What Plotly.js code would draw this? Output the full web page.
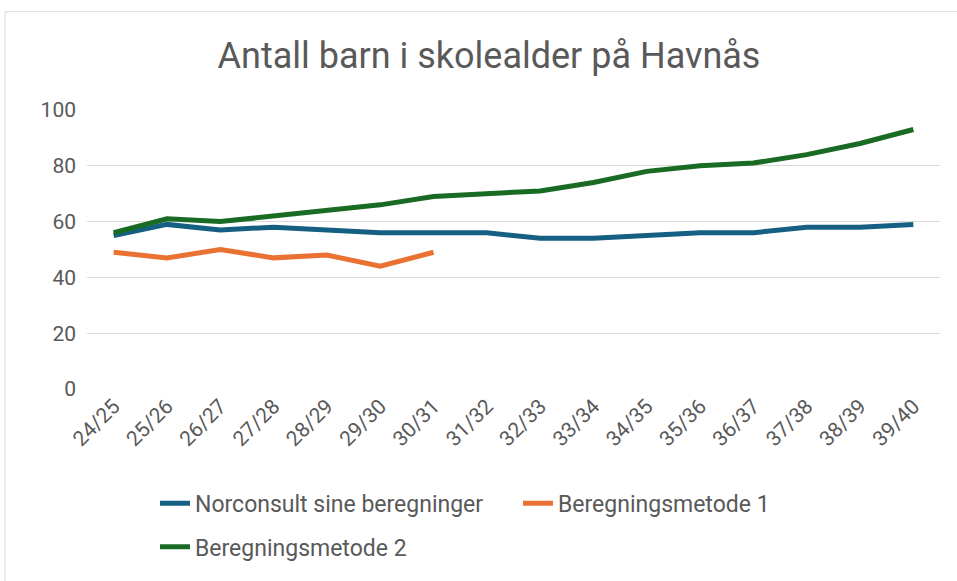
<!DOCTYPE html>
<html>
<head>
<meta charset="utf-8">
<script src="https://cdn.plot.ly/plotly-3.0.1.min.js"></script>
<style>html,body{margin:0;padding:0;background:#fff;}#chart{width:957px;height:581px;}</style>
</head>
<body>
<div id="chart"></div>
<script>
const categories = ["24/25","25/26","26/27","27/28","28/29","29/30","30/31","31/32","32/33","33/34","34/35","35/36","36/37","37/38","38/39","39/40"];
const norconsult = [55,59,57,58,57,56,56,56,54,54,55,56,56,58,58,59];
const metode1 = [49,47,50,47,48,44,49];
const metode2 = [56,61,60,62,64,66,69,70,71,74,78,80,81,84,88,93];
const yTicks = [0,20,40,60,80,100];

const font = 'Roboto, "Liberation Sans", sans-serif';
const mk = (name, y, color, x, leg) => ({
  type: 'scatter', mode: 'lines', name: name,
  x: x, y: y, legend: leg,
  line: {color: color, width: 5, shape: 'linear'},
  hoverinfo: 'skip'
});
const traces = [
  mk('Norconsult sine beregninger', norconsult, '#156082', categories, 'legend'),
  mk('Beregningsmetode 1', metode1, '#E97132', categories.slice(0, metode1.length), 'legend'),
  mk('Beregningsmetode 2', metode2, '#196B24', categories, 'legend2')
];
const L = 87, R = 940, T = 110, B = 391, W = 957, H = 581;
const px = x => (x - L) / (R - L);
const py = y => (B - y) / (B - T);
const legBase = {orientation: 'h', xanchor: 'left', yanchor: 'middle',
  font: {size: 23, color: '#595959'}, itemwidth: 30, valign: 'middle', bgcolor: 'rgba(0,0,0,0)'};
const layout = {
  width: W, height: H,
  margin: {l: L, r: W - R, t: T, b: H - B},
  paper_bgcolor: '#fff', plot_bgcolor: '#fff',
  font: {family: font, color: '#595959', size: 20},
  title: {text: 'Antall barn i skolealder på Havnås', font: {size: 36, color: '#595959', family: font},
    xref: 'container', x: 489 / W, xanchor: 'center', yref: 'container', y: 1 - 55 / H, yanchor: 'middle'},
  xaxis: {type: 'category', categoryorder: 'array', categoryarray: categories,
    range: [-0.5, categories.length - 0.5], showgrid: false, zeroline: false, showline: false,
    ticks: '', tickangle: -45, tickfont: {size: 21, color: '#595959'}, automargin: false},
  yaxis: {range: [0, 100], tickvals: yTicks, ticktext: yTicks.map(String), showgrid: true,
    gridcolor: '#d9d9d9', gridwidth: 1.3, zeroline: false, showline: false, ticks: '',
    tickfont: {size: 21, color: '#595959'}, ticklabelstandoff: 10, automargin: false},
  showlegend: true,
  legend: Object.assign({}, legBase, {x: px(155), y: py(506), entrywidth: 318, entrywidthmode: 'pixels'}),
  legend2: Object.assign({}, legBase, {x: px(155), y: py(550)}),
  shapes: [{type: 'rect', xref: 'paper', yref: 'paper',
    x0: px(5), x1: px(W + 5), y0: py(H + 5), y1: py(11),
    line: {color: '#d9d9d9', width: 1}, fillcolor: 'rgba(0,0,0,0)', layer: 'below'}]
};
Plotly.newPlot('chart', traces, layout, {displayModeBar: false, staticPlot: true});
</script>
</body>
</html>
